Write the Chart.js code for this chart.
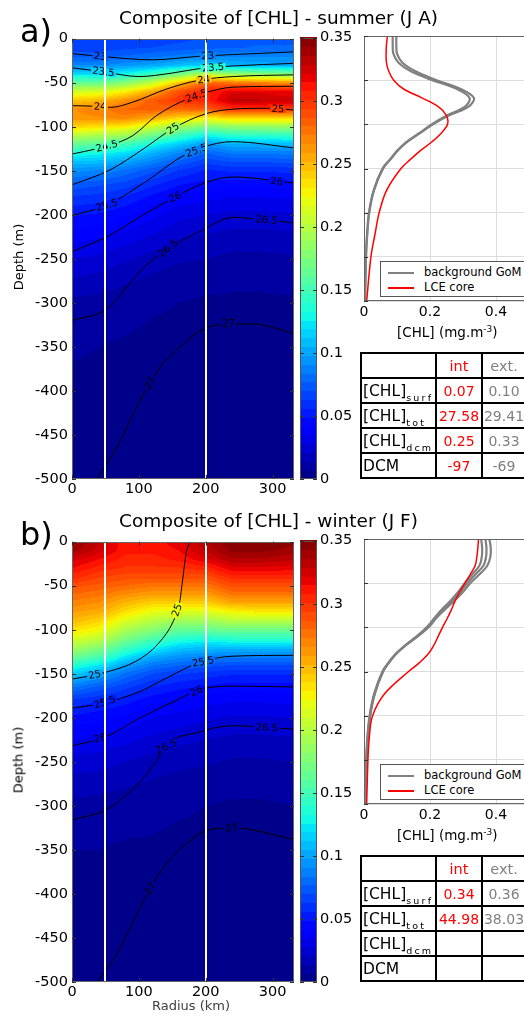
<!DOCTYPE html>
<html><head><meta charset="utf-8">
<script src="https://cdn.jsdelivr.net/npm/chart.js@4.4.1/dist/chart.umd.min.js"></script>
<style>
html,body{margin:0;padding:0;background:#fff;}
body{position:relative;width:524px;height:1017px;overflow:hidden;font-family:"DejaVu Sans",sans-serif;color:#000;}
canvas{position:absolute;}
.txt{position:absolute;white-space:nowrap;line-height:1;}
.vlab{position:absolute;white-space:nowrap;line-height:1;transform:translate(-50%,-50%) rotate(-90deg);font-size:13px;}
.legend{position:absolute;border:1px solid #555;background:#fff;width:160px;height:36px;box-sizing:border-box;}
.legend .ln{position:absolute;left:7px;width:26px;height:0;}
.legend .lt{position:absolute;left:43px;font-size:11.5px;line-height:1;}
table.tb{position:absolute;border-collapse:collapse;table-layout:fixed;width:165px;}
table.tb td{border:2px solid #000;height:23px;padding:0;text-align:center;font-size:14px;white-space:nowrap;overflow:hidden;}
table.tb td.lab{text-align:left;padding-left:1px;font-size:15.5px;}
.sub{font-size:9.5px;letter-spacing:2.2px;position:relative;top:5px;}
.red{color:#ff0000}.gry{color:#808080}
</style></head><body>
<script>
// ---------------- DATA ----------------
const HEAT_R = [0, 40, 80, 120, 160, 200, 240, 280, 332];
const HEAT_D = [0,-10,-20,-30,-40,-50,-60,-70,-80,-90,-100,-110,-120,-130,-140,-150,-165,-180,-200,-225,-250,-275,-300,-350,-400,-500];
const X_TICKS = [0, 100, 200, 300];
const Y_TICKS = [0,-50,-100,-150,-200,-250,-300,-350,-400,-450,-500];
const CBAR_TICKS = [0, 0.05, 0.1, 0.15, 0.2, 0.25, 0.3, 0.35];
const WHITE_LINES_R = [50, 200];

// [CHL] composite, summer (columns = radius, rows = depth)
const CHL_SUMMER = [
 [0.065,0.065,0.075,0.09,0.12,0.165,0.21,0.245,0.265,0.265,0.24,0.2,0.165,0.135,0.11,0.093,0.075,0.062,0.05,0.038,0.028,0.02,0.012,0.008,0.005,0.003],
 [0.065,0.065,0.075,0.09,0.12,0.165,0.215,0.25,0.27,0.265,0.235,0.195,0.16,0.13,0.108,0.09,0.072,0.06,0.048,0.036,0.026,0.018,0.011,0.007,0.005,0.003],
 [0.065,0.068,0.078,0.095,0.13,0.18,0.23,0.265,0.28,0.27,0.23,0.19,0.15,0.12,0.1,0.082,0.067,0.055,0.043,0.032,0.022,0.015,0.01,0.006,0.004,0.003],
 [0.066,0.07,0.082,0.1,0.145,0.205,0.255,0.285,0.285,0.255,0.21,0.168,0.13,0.105,0.088,0.072,0.058,0.047,0.037,0.027,0.018,0.012,0.008,0.005,0.004,0.003],
 [0.068,0.072,0.086,0.108,0.17,0.245,0.29,0.3,0.28,0.24,0.19,0.148,0.113,0.09,0.075,0.062,0.05,0.04,0.03,0.022,0.015,0.01,0.007,0.005,0.004,0.003],
 [0.07,0.075,0.09,0.115,0.2,0.28,0.305,0.305,0.285,0.23,0.175,0.128,0.095,0.077,0.065,0.055,0.046,0.037,0.028,0.02,0.014,0.009,0.006,0.004,0.003,0.003],
 [0.072,0.076,0.09,0.105,0.185,0.275,0.32,0.33,0.3,0.24,0.185,0.14,0.105,0.085,0.07,0.057,0.045,0.035,0.026,0.018,0.012,0.008,0.006,0.004,0.003,0.003],
 [0.075,0.078,0.09,0.102,0.18,0.27,0.32,0.33,0.3,0.24,0.185,0.14,0.105,0.085,0.07,0.057,0.045,0.035,0.026,0.018,0.012,0.008,0.006,0.004,0.003,0.003],
 [0.075,0.078,0.09,0.1,0.175,0.265,0.315,0.325,0.298,0.24,0.187,0.142,0.108,0.087,0.072,0.058,0.046,0.036,0.027,0.019,0.013,0.009,0.006,0.004,0.003,0.003]
];
// [CHL] composite, winter
const CHL_WINTER = [
 [0.345,0.34,0.325,0.315,0.305,0.29,0.28,0.27,0.26,0.25,0.235,0.215,0.195,0.17,0.14,0.115,0.085,0.062,0.047,0.035,0.025,0.018,0.012,0.007,0.004,0.003],
 [0.33,0.325,0.315,0.305,0.295,0.285,0.275,0.265,0.255,0.24,0.225,0.205,0.18,0.155,0.125,0.1,0.075,0.057,0.044,0.033,0.024,0.017,0.011,0.007,0.004,0.003],
 [0.31,0.31,0.305,0.3,0.29,0.28,0.265,0.25,0.235,0.215,0.195,0.175,0.15,0.125,0.1,0.082,0.065,0.052,0.04,0.03,0.021,0.015,0.01,0.006,0.004,0.003],
 [0.31,0.31,0.305,0.3,0.29,0.275,0.26,0.24,0.22,0.2,0.18,0.155,0.13,0.105,0.085,0.07,0.056,0.045,0.035,0.026,0.018,0.013,0.009,0.006,0.004,0.003],
 [0.32,0.315,0.31,0.3,0.29,0.275,0.26,0.24,0.215,0.19,0.165,0.14,0.115,0.095,0.078,0.064,0.051,0.041,0.032,0.023,0.016,0.011,0.008,0.005,0.004,0.003],
 [0.335,0.33,0.32,0.305,0.29,0.275,0.26,0.24,0.215,0.19,0.165,0.135,0.11,0.09,0.073,0.06,0.048,0.038,0.029,0.021,0.015,0.01,0.007,0.005,0.004,0.003],
 [0.35,0.345,0.335,0.32,0.305,0.29,0.275,0.255,0.225,0.2,0.17,0.14,0.11,0.088,0.07,0.057,0.045,0.036,0.027,0.019,0.013,0.009,0.006,0.004,0.003,0.003],
 [0.35,0.345,0.335,0.32,0.305,0.29,0.275,0.255,0.23,0.2,0.17,0.14,0.11,0.088,0.07,0.057,0.045,0.036,0.027,0.019,0.013,0.009,0.006,0.004,0.003,0.003],
 [0.345,0.34,0.33,0.318,0.305,0.29,0.275,0.255,0.23,0.2,0.17,0.14,0.11,0.088,0.07,0.057,0.046,0.037,0.028,0.02,0.014,0.01,0.007,0.004,0.003,0.003]
];

// density contours [level, [[radius, depth], ...]]
const SIGMA_SUMMER = [
 ['23',   [[0,-17],[42,-20],[120,-24],[190,-20],[240,-18],[332,-15]]],
 ['23.5', [[0,-33],[50,-38],[100,-43],[150,-39],[190,-34],[240,-31],[332,-28]]],
 ['24',   [[0,-76],[42,-77],[57,-78],[91,-72],[142,-57],[191,-47],[241,-43],[332,-41]]],
 ['24.5', [[0,-131],[37,-125],[57,-121],[91,-110],[127,-87],[171,-69],[201,-61],[241,-55],[332,-54]]],
 ['25',   [[0,-166],[57,-149],[107,-125],[151,-102],[201,-85],[241,-80],[291,-79],[332,-81]]],
 ['25.5', [[0,-201],[52,-189],[107,-164],[171,-131],[216,-119],[241,-117],[332,-124]]],
 ['26',   [[0,-242],[57,-223],[107,-200],[151,-181],[201,-163],[241,-157],[332,-164]]],
 ['26.5', [[0,-320],[52,-307],[102,-264],[144,-238],[191,-219],[241,-203],[291,-206],[332,-209]]],
 ['27',   [[37,-500],[67,-464],[107,-403],[132,-373],[156,-354],[191,-332],[231,-324],[271,-324],[332,-335]]]
];
const SIGMA_SUMMER_LABELS = [
 ['23',42],['23',203],['23.5',47],['23.5',211],['24',42],['24',197],['24.5',52],['24.5',186],
 ['25',151],['25',308],['25.5',52],['25.5',186],['26',154],['26',306],['26.5',144],['26.5',291],['27',117],['27',234]
];
const SIGMA_WINTER = [
 ['25',   [[0,-156],[42,-150],[102,-133],[131,-114],[151,-91],[161,-69],[165,-46],[171,-12],[177,0]]],
 ['25.5', [[0,-189],[42,-184],[102,-170],[141,-155],[191,-137],[241,-130],[332,-129]]],
 ['26',   [[0,-232],[52,-221],[102,-200],[151,-182],[191,-168],[241,-164],[332,-165]]],
 ['26.5', [[0,-316],[52,-304],[92,-280],[127,-248],[137,-234],[191,-216],[241,-209],[332,-213]]],
 ['27',   [[37,-500],[67,-468],[112,-400],[141,-366],[176,-340],[201,-328],[241,-325],[332,-338]]]
];
const SIGMA_WINTER_LABELS = [
 ['25',34],['25',157],['25.5',49],['25.5',196],['26',42],['26',186],['26.5',141],['26.5',291],['27',117],['27',239]
];

// mean profiles
const PROF_DEPTH = [0,-10,-20,-30,-40,-50,-60,-70,-80,-90,-100,-110,-120,-130,-140,-150,-175,-200,-225,-250,-300];
const PROF_X_TICKS = [0, 0.2, 0.4];
const PROF_Y_TICKS = [0,-50,-100,-150,-200,-250,-300];
const SUMMER_LCE = [0.071,0.068,0.067,0.068,0.075,0.09,0.12,0.175,0.225,0.25,0.253,0.234,0.205,0.17,0.14,0.112,0.068,0.046,0.033,0.021,0.008];
const SUMMER_GOM_1 = [0.087,0.087,0.089,0.104,0.142,0.207,0.282,0.32,0.306,0.251,0.205,0.167,0.128,0.1,0.078,0.056,0.029,0.015,0.009,0.006,0.003];
const SUMMER_GOM_2 = [0.098,0.098,0.1,0.116,0.156,0.22,0.293,0.333,0.317,0.257,0.209,0.17,0.131,0.102,0.08,0.058,0.03,0.016,0.01,0.006,0.003];
const WINTER_LCE = [0.347,0.345,0.342,0.337,0.322,0.306,0.29,0.276,0.265,0.252,0.238,0.225,0.212,0.195,0.168,0.135,0.063,0.026,0.016,0.012,0.008];
const WINTER_GOM_1 = [0.355,0.358,0.357,0.35,0.328,0.305,0.285,0.262,0.235,0.212,0.19,0.16,0.126,0.096,0.074,0.056,0.031,0.017,0.01,0.007,0.003];
const WINTER_GOM_2 = [0.368,0.371,0.37,0.362,0.338,0.313,0.292,0.268,0.24,0.215,0.193,0.162,0.127,0.097,0.075,0.057,0.032,0.018,0.011,0.007,0.003];
const WINTER_GOM_3 = [0.38,0.384,0.383,0.374,0.35,0.322,0.3,0.274,0.245,0.218,0.196,0.164,0.128,0.098,0.076,0.058,0.033,0.019,0.012,0.008,0.004];

// tables
const TABLE_SUBS = ['surf','tot','dcm',''];
const TABLE_NAMES = ['[CHL]','[CHL]','[CHL]','DCM'];
const SUMMER_INT = ['0.07','27.58','0.25','-97'];
const SUMMER_EXT = ['0.10','29.41','0.33','-69'];
const WINTER_INT = ['0.34','44.98','',''];
const WINTER_EXT = ['0.36','38.03','',''];

// ---------------- RENDERING ----------------
const FONT = '"DejaVu Sans", sans-serif';
const VMAX = 0.35, NLEV = 50;
function interp(xs, ys, v){
  for (let i=1;i<xs.length;i++){ if (v<=xs[i]){ const t=(v-xs[i-1])/(xs[i]-xs[i-1]); return ys[i-1]+t*(ys[i]-ys[i-1]); } }
  return ys[ys.length-1];
}
function jetRGB(v){
  return [interp([0,0.35,0.66,0.89,1],[0,0,1,1,0.5],v), interp([0,0.125,0.375,0.64,0.91,1],[0,0,1,1,0,0],v), interp([0,0.11,0.34,0.65,1],[0.5,1,1,0,0],v)].map(c=>Math.round(c*255));
}
function jet(v){ const c=jetRGB(v); return 'rgb('+c[0]+','+c[1]+','+c[2]+')'; }
function levelIndex(val){ let k=Math.floor(val/VMAX*NLEV); if(k>=NLEV)k=NLEV-1; if(k<0)k=0; return k; }
const LEVEL_RGB = Array.from({length:NLEV},(_,k)=>jetRGB((k+0.5)/NLEV));
function levelColor(val){ const c=LEVEL_RGB[levelIndex(val)]; return 'rgb('+c[0]+','+c[1]+','+c[2]+')'; }
// field value at (r,d) from the grid, as contourf does between grid nodes
function fieldAt(g, r, d){
  let i=0; while(i<HEAT_R.length-2 && r>HEAT_R[i+1]) i++;
  let j=0; while(j<HEAT_D.length-2 && d<HEAT_D[j+1]) j++;
  const tr=Math.min(1,Math.max(0,(r-HEAT_R[i])/(HEAT_R[i+1]-HEAT_R[i])));
  const td=Math.min(1,Math.max(0,(d-HEAT_D[j])/(HEAT_D[j+1]-HEAT_D[j])));
  const a=g[i][j]*(1-tr)+g[i+1][j]*tr, b=g[i][j+1]*(1-tr)+g[i+1][j+1]*tr;
  return a*(1-td)+b*td;
}
function lineAt(pts, r){
  let i=1; while(i<pts.length-1 && pts[i][0]<r) i++;
  const a=pts[i-1], b=pts[i];
  const t=(r-a[0])/(b[0]-a[0]);
  return {d:a[1]+t*(b[1]-a[1]), a, b};
}
function mkCanvas(left, top, w, h){
  const c=document.createElement('canvas');
  c.width=w; c.height=h;
  c.style.left=left+'px'; c.style.top=top+'px'; c.style.width=w+'px'; c.style.height=h+'px';
  document.body.appendChild(c); return c;
}
function strokeLine(ctx,x0,y0,x1,y1){ ctx.beginPath(); ctx.moveTo(x0,y0); ctx.lineTo(x1,y1); ctx.stroke(); }

const framePlugin = {
  id:'frame',
  afterDraw(chart, args, opts){
    const {ctx, chartArea:ca, scales} = chart;
    ctx.save();
    ctx.strokeStyle = opts.color || '#555'; ctx.lineWidth = 1;
    ctx.strokeRect(Math.round(ca.left)+0.5, Math.round(ca.top)+0.5, Math.round(ca.right-ca.left)-1, Math.round(ca.bottom-ca.top)-1);
    ctx.strokeStyle = '#333';
    const L = 4;
    if (opts.xticks) scales.x.ticks.forEach(t=>{ const p=Math.round(scales.x.getPixelForValue(t.value))+0.5;
      strokeLine(ctx,p,ca.bottom,p,ca.bottom-L); strokeLine(ctx,p,ca.top,p,ca.top+L); });
    if (opts.yticks) scales.y.ticks.forEach(t=>{ const p=Math.round(scales.y.getPixelForValue(t.value))+0.5;
      strokeLine(ctx,ca.left,p,ca.left+L,p); if(opts.yticksRight!==false) strokeLine(ctx,ca.right,p,ca.right-L,p); });
    ctx.restore();
  }
};

const heatPlugin = {
  id:'heat',
  beforeDatasetsDraw(chart, args, opts){
    const {ctx, chartArea:ca, scales:{x,y}} = chart; const g = opts.grid;
    const L=Math.round(ca.left), T=Math.round(ca.top), W=Math.round(ca.right)-L, H=Math.round(ca.bottom)-T;
    const img=ctx.createImageData(W,H);
    for (let py=0; py<H; py++){
      const d=y.getValueForPixel(T+py+0.5);
      for (let px=0; px<W; px++){
        const r=x.getValueForPixel(L+px+0.5);
        const c=LEVEL_RGB[levelIndex(fieldAt(g,r,d))];
        const o=(py*W+px)*4; img.data[o]=c[0]; img.data[o+1]=c[1]; img.data[o+2]=c[2]; img.data[o+3]=255;
      }
    }
    ctx.putImageData(img, L, T);
  },
  afterDatasetsDraw(chart, args, opts){
    const {ctx, chartArea:ca, scales:{x,y}} = chart; const g = opts.grid;
    ctx.save(); ctx.beginPath(); ctx.rect(ca.left,ca.top,ca.right-ca.left,ca.bottom-ca.top); ctx.clip();
    ctx.font = '10px ' + FONT; ctx.textAlign='center'; ctx.textBaseline='middle';
    opts.labels.forEach(([txt, r])=>{
      const pts = opts.contours.find(c=>c[0]===txt)[1];
      const {d, a, b} = lineAt(pts, r);
      const px=x.getPixelForValue(r), py=y.getPixelForValue(d);
      const ang=Math.atan2(y.getPixelForValue(b[1])-y.getPixelForValue(a[1]), x.getPixelForValue(b[0])-x.getPixelForValue(a[0]));
      const w=ctx.measureText(txt).width;
      ctx.save(); ctx.translate(px,py); ctx.rotate(ang);
      ctx.fillStyle=levelColor(fieldAt(g,r,d));
      ctx.fillRect(-w/2-1.5,-3.5,w+3,7);
      ctx.fillStyle='#000'; ctx.fillText(txt,0,0.5);
      ctx.restore();
    });
    ctx.strokeStyle='#fff'; ctx.lineWidth=2;
    WHITE_LINES_R.forEach(r=>{ const p=Math.round(x.getPixelForValue(r)); strokeLine(ctx,p,ca.top,p,ca.bottom); });
    ctx.restore();
  }
};

const cbarPlugin = {
  id:'cbar',
  beforeDatasetsDraw(chart){
    const {ctx, chartArea:ca, scales:{y}} = chart;
    const step = VMAX/NLEV;
    for (let k=0;k<NLEV;k++){
      const y0=Math.ceil(y.getPixelForValue(k*step)), y1=Math.floor(y.getPixelForValue((k+1)*step));
      ctx.fillStyle=jet((k+0.5)/NLEV); ctx.fillRect(ca.left,y1,ca.right-ca.left,y0-y1);
    }
  }
};

const tickFont = {family:FONT, size:14.5};
function baseOpts(){ return {responsive:false, devicePixelRatio:1, animation:false, events:[], plugins:{legend:{display:false}, tooltip:{enabled:false}}}; }

function heatChart(top, grid, contours, labels){
  const cv = mkCanvas(20, top-10, 284, 477);
  const datasets = contours.map(([lev,pts])=>({label:lev, data:pts.map(p=>({x:p[0],y:p[1]})), borderColor:'#000', borderWidth:1,
     showLine:true, pointRadius:0, cubicInterpolationMode:'monotone'}));
  const o = baseOpts();
  o.layout = {padding:{top:10,right:10,left:0,bottom:0}};
  o.plugins.heat = {grid, contours, labels};
  o.plugins.frame = {xticks:true, yticks:true, color:'#666'};
  o.scales = {
    x:{type:'linear', min:0, max:332, afterBuildTicks:s=>{s.ticks=X_TICKS.map(v=>({value:v}));}, afterFit:s=>{s.height=24;},
       grid:{display:false, drawTicks:false}, border:{display:false}, ticks:{color:'#000', font:tickFont, padding:2, maxRotation:0, autoSkip:false}},
    y:{type:'linear', min:-500, max:0, afterBuildTicks:s=>{s.ticks=Y_TICKS.map(v=>({value:v}));}, afterFit:s=>{s.width=52;},
       grid:{display:false, drawTicks:false}, border:{display:false}, ticks:{color:'#000', font:tickFont, padding:4, autoSkip:false}}
  };
  new Chart(cv, {type:'scatter', data:{datasets}, options:o, plugins:[heatPlugin, framePlugin]});
}

function cbarChart(top){
  const cv = mkCanvas(290, top-10, 75, 477);
  const o = baseOpts();
  o.layout = {padding:{top:10,right:0,left:10,bottom:24}};
  o.plugins.frame = {yticks:true, color:'#555'};
  o.scales = {
    x:{type:'linear', display:false, min:0, max:1},
    y:{type:'linear', position:'right', min:0, max:VMAX, afterBuildTicks:s=>{s.ticks=CBAR_TICKS.map(v=>({value:v}));}, afterFit:s=>{s.width=48;},
       grid:{display:false, drawTicks:false}, border:{display:false},
       ticks:{color:'#000', font:tickFont, padding:3, autoSkip:false, callback:v=>String(+(+v).toFixed(2))}}
  };
  new Chart(cv, {type:'scatter', data:{datasets:[]}, options:o, plugins:[cbarPlugin, framePlugin]});
}

function profChart(top, lce, goms){
  const cv = mkCanvas(330, top-10, 201, 297);
  const datasets = [{data:PROF_DEPTH.map((d,k)=>({x:lce[k], y:d})), borderColor:'#ff0000', borderWidth:1.5, showLine:true, pointRadius:0, tension:0.35, order:0}];
  goms.forEach(gm=>datasets.push({data:PROF_DEPTH.map((d,k)=>({x:gm[k], y:d})), borderColor:'#808080', borderWidth:2.2, showLine:true, pointRadius:0, tension:0.35, order:1}));
  const o = baseOpts();
  o.layout = {padding:{top:10,right:2,left:0,bottom:0}};
  o.plugins.frame = {yticks:true, yticksRight:false, color:'#666'};
  o.scales = {
    x:{type:'linear', min:0, max:0.5, afterBuildTicks:s=>{s.ticks=PROF_X_TICKS.map(v=>({value:v}));}, afterFit:s=>{s.height=22;},
       grid:{color:'#dcdcdc', drawTicks:false}, border:{display:false},
       ticks:{color:'#000', font:{family:FONT,size:14}, padding:3, maxRotation:0, autoSkip:false, callback:v=>v===0?'0':(+v).toFixed(1)}},
    y:{type:'linear', min:-300, max:0, afterBuildTicks:s=>{s.ticks=PROF_Y_TICKS.map(v=>({value:v}));}, afterFit:s=>{s.width=34;},
       grid:{color:'#dcdcdc', drawTicks:false}, border:{display:false}, ticks:{display:false}}
  };
  new Chart(cv, {type:'scatter', data:{datasets}, options:o, plugins:[framePlugin]});
}

function addText(html, left, top, css){
  const d=document.createElement('div'); d.className='txt'; d.innerHTML=html;
  d.style.left=left+'px'; d.style.top=top+'px'; if(css) d.style.cssText += css;
  document.body.appendChild(d); return d;
}
function addVLabel(txt, cx, cy){
  const d=document.createElement('div'); d.className='vlab'; d.textContent=txt;
  d.style.left=cx+'px'; d.style.top=cy+'px'; document.body.appendChild(d);
}
function addLegend(top){
  const d=document.createElement('div'); d.className='legend'; d.style.left='380px'; d.style.top=top+'px';
  d.innerHTML='<div class="ln" style="top:10px;border-top:2px solid #808080"></div><div class="lt" style="top:5px">background GoM</div>'+
              '<div class="ln" style="top:25px;border-top:2px solid #ff0000"></div><div class="lt" style="top:20px">LCE core</div>';
  document.body.appendChild(d);
}
function addTable(top, ints, exts){
  const t=document.createElement('table'); t.className='tb'; t.style.left='360px'; t.style.top=top+'px';
  let h='<colgroup><col style="width:75px"><col style="width:46px"><col style="width:44px"></colgroup>';
  h+='<tr><td></td><td class="red" style="font-size:14.5px">int</td><td class="gry" style="font-size:14.5px">ext.</td></tr>';
  TABLE_NAMES.forEach((n,i)=>{
    const sub = TABLE_SUBS[i] ? '<span class="sub">'+TABLE_SUBS[i]+'</span>' : '';
    h+='<tr><td class="lab">'+n+sub+'</td><td class="red">'+ints[i]+'</td><td class="gry">'+exts[i]+'</td></tr>';
  });
  t.innerHTML=h; document.body.appendChild(t);
}

const PANELS = [
  {top:36, letter:'a)', title:'Composite of [CHL] - summer (J A)', grid:CHL_SUMMER, sig:SIGMA_SUMMER, lab:SIGMA_SUMMER_LABELS, lce:SUMMER_LCE, gom:[SUMMER_GOM_1,SUMMER_GOM_2], ti:SUMMER_INT, te:SUMMER_EXT},
  {top:539, letter:'b)', title:'Composite of [CHL] - winter (J F)', grid:CHL_WINTER, sig:SIGMA_WINTER, lab:SIGMA_WINTER_LABELS, lce:WINTER_LCE, gom:[WINTER_GOM_1,WINTER_GOM_2,WINTER_GOM_3], ti:WINTER_INT, te:WINTER_EXT}
];
PANELS.forEach(P=>{
  const T=P.top;
  heatChart(T, P.grid, P.sig, P.lab);
  cbarChart(T);
  profChart(T, P.lce, P.gom);
  addText(P.letter, 20, T-21, 'font-size:32px;');
  addText(P.title, 119, T-27.5, 'font-size:18.5px;');
  addVLabel('Depth (m)', 18, T+221);
  addText('[CHL] (mg.m<sup style="font-size:9px;vertical-align:5px">-3</sup>)', 397, T+289, 'font-size:13.5px;');
  addLegend(T+225);
  addTable(T+316, P.ti, P.te);
});
addText('Radius (km)', 152, 999, 'font-size:13px;color:#404040;');
</script>
</body></html>
